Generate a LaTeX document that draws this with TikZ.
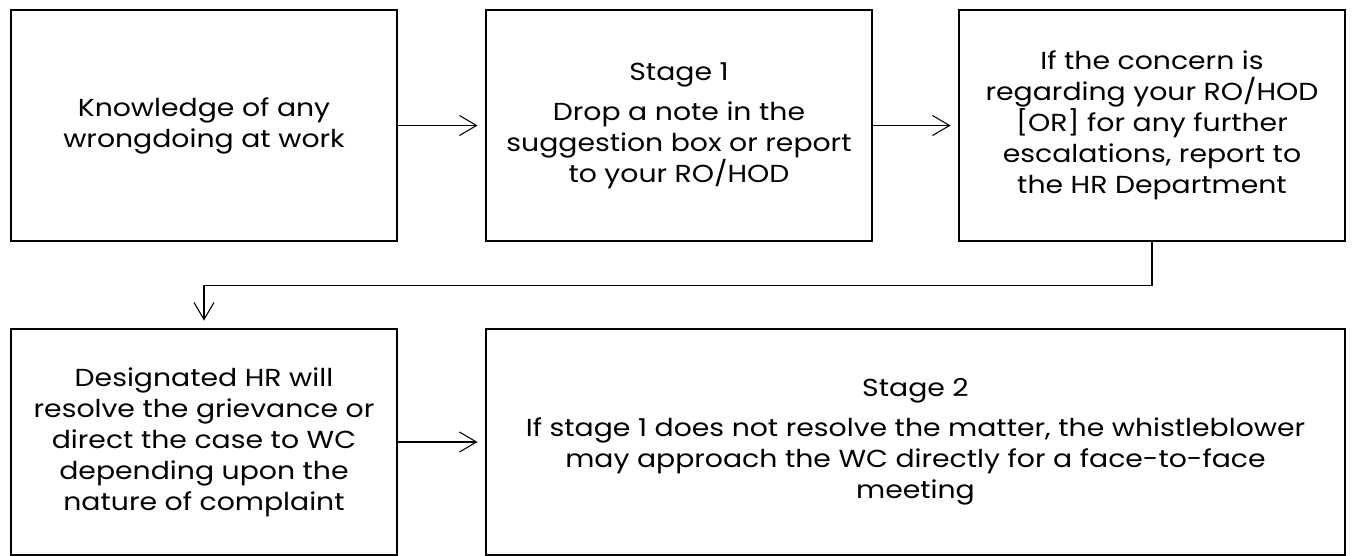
\documentclass[tikz,border=0pt]{standalone}
\usepackage{fontspec}
\setmainfont[FakeStretch=1.15]{Poppins}
\usetikzlibrary{arrows.meta}

\begin{document}
\begin{tikzpicture}[
  flow node/.style={draw, line width=1.1pt, align=center, inner sep=0pt,
    font=\fontsize{14}{17.6}\selectfont, minimum height=4.62cm},
  flow edge/.style={-{Straight Barb[length=0.34cm, width=0.4cm]}, line width=0.6pt,
    shorten >=0.15cm}
]
\useasboundingbox (0,0) rectangle (27.12,-11.12);
\node[flow node, minimum width=7.72cm] (know) at (4.08, -2.51)
  {Knowledge of any\\wrongdoing at work};
\node[flow node, minimum width=7.72cm] (stageone) at (13.58, -2.51)
  {Stage 1\\[5pt]Drop a note in the\\suggestion box or report\\to your RO/HOD};
\node[flow node, minimum width=7.72cm] (hrdept) at (23.04, -2.51)
  {If the concern is\\regarding your RO/HOD\\{}[OR] for any further\\escalations, report to\\the HR Department};
\node[flow node, minimum width=7.72cm, minimum height=4.52cm] (desighr) at (4.08, -8.84)
  {Designated HR will\\resolve the grievance or\\direct the case to WC\\depending upon the\\nature of complaint};
\node[flow node, minimum width=17.18cm, minimum height=4.52cm] (stagetwo) at (18.31, -8.84)
  {Stage 2\\[5pt]If stage 1 does not resolve the matter, the whistleblower\\may approach the WC directly for a face-to-face\\meeting};
\draw[flow edge] (know) -- (stageone);
\draw[flow edge] (stageone) -- (hrdept);
\draw[flow edge] (hrdept.south) -- ++(0,-0.88) -| (desighr.north);
\draw[flow edge] (desighr) -- (stagetwo);
\end{tikzpicture}
\end{document}
